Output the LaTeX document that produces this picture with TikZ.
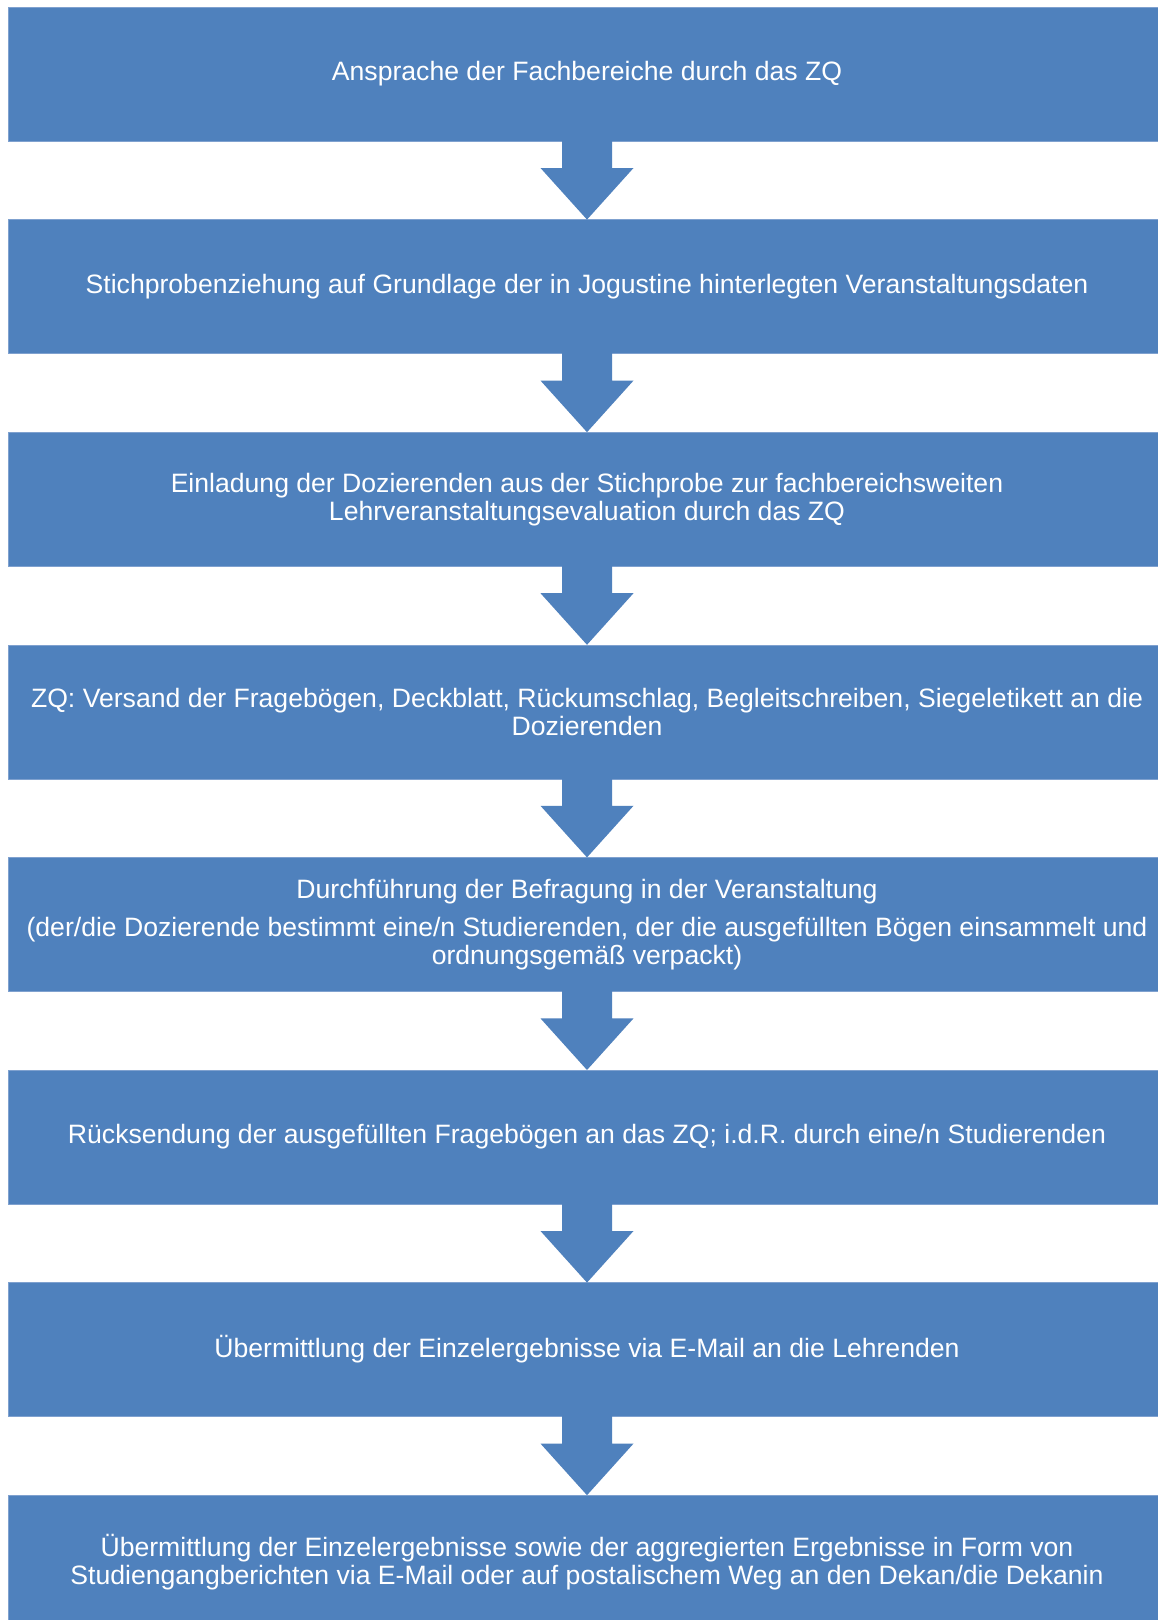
\documentclass[tikz,border=0pt]{standalone}
\usepackage{fontspec}
\setmainfont{Liberation Sans}
\usetikzlibrary{calc}
\definecolor{boxblue}{HTML}{4F81BD}
\definecolor{boxedge}{HTML}{7FA1CF}
\newcommand\flowarrow[2]{%
  \fill[boxblue] ($(#1.south)+(-25,0.5)$) -- ($(#1.south)+(-25,-27)$) -- ($(#1.south)+(-46.5,-27)$) -- (#2.north)
     -- ($(#1.south)+(46.5,-27)$) -- ($(#1.south)+(25,-27)$) -- ($(#1.south)+(25,0.5)$) -- cycle;}
\begin{document}
\begin{tikzpicture}[x=1pt,y=1pt,
  stepbox/.style={rectangle, fill=boxblue, draw=boxedge, line width=0.6pt,
    minimum width=1158pt, minimum height=134pt, inner sep=0pt, outer sep=0pt,
    text=white, align=center, font=\fontsize{26.6}{28}\selectfont}]
\useasboundingbox (0,0) rectangle (1158,-1620);
\clip (0,0) rectangle (1158,-1620);
\fill[white] (0,0) rectangle (1158,-1620);
\node[stepbox] (s1) at (587,-74) {Ansprache der Fachbereiche durch das ZQ};
\node[stepbox] (s2) at (587,-286.6) {Stichprobenziehung auf Grundlage der in Jogustine hinterlegten Veranstaltungsdaten};
\node[stepbox] (s3) at (587,-499.2) {Einladung der Dozierenden aus der Stichprobe zur fachbereichsweiten\\Lehrveranstaltungsevaluation durch das ZQ};
\node[stepbox] (s4) at (587,-711.8) {ZQ: Versand der Fragebögen, Deckblatt, Rückumschlag, Begleitschreiben, Siegeletikett an die\\Dozierenden};
\node[stepbox] (s5) at (587,-924.4) {Durchführung der Befragung in der Veranstaltung\\[10pt](der/die Dozierende bestimmt eine/n Studierenden, der die ausgefüllten Bögen einsammelt und\\ordnungsgemäß verpackt)};
\node[stepbox] (s6) at (587,-1137) {Rücksendung der ausgefüllten Fragebögen an das ZQ; i.d.R. durch eine/n Studierenden};
\node[stepbox] (s7) at (587,-1349.6) {Übermittlung der Einzelergebnisse via E-Mail an die Lehrenden};
\node[stepbox] (s8) at (587,-1562.2) {Übermittlung der Einzelergebnisse sowie der aggregierten Ergebnisse in Form von\\Studiengangberichten via E-Mail oder auf postalischem Weg an den Dekan/die Dekanin};
\flowarrow{s1}{s2}
\flowarrow{s2}{s3}
\flowarrow{s3}{s4}
\flowarrow{s4}{s5}
\flowarrow{s5}{s6}
\flowarrow{s6}{s7}
\flowarrow{s7}{s8}
\end{tikzpicture}
\end{document}
